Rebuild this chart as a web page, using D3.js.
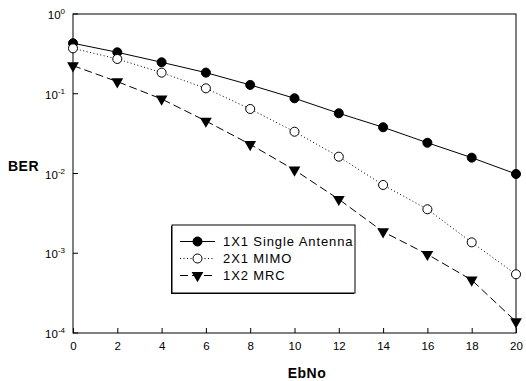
<!DOCTYPE html>
<html>
<head>
    <meta charset="utf-8">
    <style>
        body {
            margin: 0;
            background: white;
        }

        svg {
            font-family: 'Liberation Sans', Arial, sans-serif;
            display: block;
        }

        .tick-label {
            font-size: 11.5px;
            fill: #000;
        }

        .axis-title {
            font-size: 14px;
            font-weight: bold;
            letter-spacing: 0.5px;
        }

        .legend text {
            font-size: 13px;
            letter-spacing: 0.9px;
        }
    </style>
</head>

<body>
    <svg width="526" height="381"></svg>
</body>

<script src="https://d3js.org/d3.v7.min.js"></script>

<script>
    let width = 526;
    let height = 381;

    // EbNo values on x axis
    let ebno = [0, 2, 4, 6, 8, 10, 12, 14, 16, 18, 20];

    // BER series
    let single = [0.43, 0.331, 0.248, 0.184, 0.129, 0.0877, 0.0569, 0.038, 0.0243, 0.0158, 0.00986];
    let mimo = [0.371, 0.273, 0.184, 0.117, 0.0644, 0.0334, 0.01625, 0.00718, 0.00356, 0.00137, 0.000545];
    let mrc = [0.225, 0.142, 0.086, 0.0455, 0.0232, 0.01107, 0.00475, 0.00186, 0.00097, 0.000462, 0.000139];

    let seriesNames = ["1X1 Single Antenna", "2X1 MIMO", "1X2 MRC"];

    let xTicks = [0, 2, 4, 6, 8, 10, 12, 14, 16, 18, 20];
    let yExponents = [0, -1, -2, -3, -4];

    let margin = { top: 14, right: 10, bottom: 48, left: 73 };

    let svg = d3.select("svg");

    let x = d3.scaleLinear()
        .domain([0, 20])
        .range([margin.left, width - margin.right])

    let y = d3.scaleLog()
        .domain([1e-4, 1])
        .range([height - margin.bottom, margin.top])

    // frame
    svg.append("rect")
        .attr("x", x(0))
        .attr("y", y(1))
        .attr("width", x(20) - x(0))
        .attr("height", y(1e-4) - y(1))
        .style("fill", "none")
        .style("stroke", "#000")
        .style("stroke-width", 1)

    // x axis, ticks pointing inward
    let xAxis = svg.append("g")
        .attr("class", "x axis")
        .attr("transform", `translate(0,${y(1e-4)})`)
        .call(d3.axisBottom(x).tickValues(xTicks).tickSize(-5).tickPadding(9))

    xAxis.select(".domain").remove()
    xAxis.selectAll(".tick text")
        .attr("class", "tick-label")
        .style("font-size", "11.5px")
        .style("font-family", "'Liberation Sans', Arial, sans-serif")

    // y axis, ticks inward, labels as 10 with superscript
    let yAxis = svg.append("g").attr("class", "y axis")

    yAxis.selectAll("line")
        .data(yExponents)
        .join("line")
        .attr("x1", x(0))
        .attr("x2", x(0) + 5)
        .attr("y1", d => y(Math.pow(10, d)))
        .attr("y2", d => y(Math.pow(10, d)))
        .style("stroke", "#000")

    let yLabels = yAxis.selectAll("text")
        .data(yExponents)
        .join("text")
        .attr("class", "tick-label")
        .attr("text-anchor", "end")
        .attr("x", x(0) - 8)
        .attr("y", d => y(Math.pow(10, d)) + 5)

    yLabels.append("tspan").text("10")
    yLabels.append("tspan")
        .attr("dy", -5)
        .style("font-size", "8px")
        .text(d => d == 0 ? "0" : "-" + Math.abs(d))

    // axis titles
    svg.append("text")
        .attr("class", "axis-title")
        .attr("x", 8)
        .attr("y", 171)
        .text("BER")

    svg.append("text")
        .attr("class", "axis-title")
        .attr("text-anchor", "middle")
        .attr("x", 307)
        .attr("y", 378)
        .text("EbNo")

    // series
    let circle = d3.symbol().type(d3.symbolCircle).size(64)
    let tri = d3.symbol().type(d3.symbolTriangle).size(60)

    let series = [
        { name: seriesNames[0], values: single, dash: null, marker: "dot" },
        { name: seriesNames[1], values: mimo, dash: "1,2.5", marker: "open" },
        { name: seriesNames[2], values: mrc, dash: "8,4", marker: "tri" }
    ]

    let line = d3.line()
        .x((d, i) => x(ebno[i]))
        .y(d => y(d))

    function drawMarker(g, kind, cx, cy) {
        if (kind == "tri") {
            g.append("path")
                .attr("d", tri)
                .attr("transform", `translate(${cx},${cy}) rotate(180)`)
                .style("fill", "#000")
        } else {
            g.append("path")
                .attr("d", circle)
                .attr("transform", `translate(${cx},${cy})`)
                .style("fill", kind == "dot" ? "#000" : "#fff")
                .style("stroke", "#000")
                .style("stroke-width", 1)
        }
    }

    series.forEach(function (s) {
        svg.append("path")
            .datum(s.values)
            .attr("d", line)
            .style("fill", "none")
            .style("stroke", "#000")
            .style("stroke-width", 1)
            .style("stroke-dasharray", s.dash)

        let g = svg.append("g")
        s.values.forEach(function (v, i) {
            drawMarker(g, s.marker, x(ebno[i]), y(v))
        })
    })

    // legend
    let legend = svg.append("g").attr("class", "legend")

    // little drop shadow on the left/bottom edge
    legend.append("rect")
        .attr("x", 171)
        .attr("y", 226)
        .attr("width", 183)
        .attr("height", 68)
        .style("fill", "#000")

    legend.append("rect")
        .attr("x", 172)
        .attr("y", 225)
        .attr("width", 183)
        .attr("height", 68)
        .style("fill", "#fff")
        .style("stroke", "#000")
        .style("stroke-width", 1)

    series.forEach(function (s, i) {
        let ly = 241.5 + i * 17
        legend.append("line")
            .attr("x1", 180)
            .attr("x2", 215)
            .attr("y1", ly)
            .attr("y2", ly)
            .style("stroke", "#000")
            .style("stroke-dasharray", s.dash)

        drawMarker(legend, s.marker, 197.5, ly)

        legend.append("text")
            .attr("x", 223)
            .attr("y", ly + 4.7)
            .text(s.name)
    })
</script>
</html>
